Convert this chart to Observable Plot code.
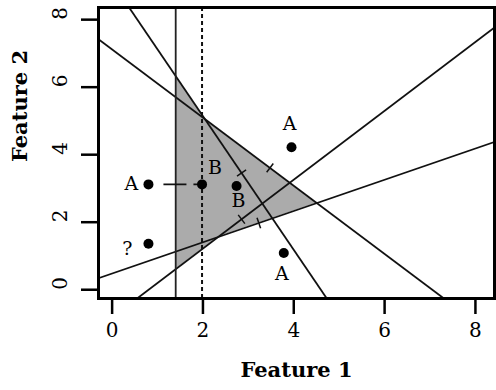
<!DOCTYPE html>
<html><head><meta charset="utf-8">
<script src="https://cdn.jsdelivr.net/npm/d3@7"></script>
<script src="https://cdn.jsdelivr.net/npm/@observablehq/plot@0.6"></script>
<style>
html,body{margin:0;padding:0;background:#fff;}
#chart svg{display:block;}
</style></head><body><div id="chart"></div>
<script>
// ---- data ----
const xTicks = [0, 2, 4, 6, 8];
const yTicks = [0, 2, 4, 6, 8];
const pointX = [0.80, 1.98, 2.74, 3.95, 3.78, 0.80];
const pointY = [3.12, 3.12, 3.07, 4.22, 1.09, 1.36];
const pointLabel = ["A", "B", "B", "A", "A", "?"];
// straight boundaries y = intercept + slope * x
const lineSlope = [-1.98, -1.01, 0.463, 1.02];
const lineIntercept = [9.10, 7.12, 0.48, -0.82];
// x where each boundary carries a small cross mark
const markAtX = [2.85, 3.476, 3.23, 2.85];
const solidVerticalX = [1.40];
const dashedVerticalX = [1.98];
const dashedLinkFromX = [1.13];   // dashed link ends at point B (index 1)

// ---- layout / style ----
const W = 496, H = 390;
const mL = 98, mR = 2, mT = 7, mB = 92;
const xDomain = [-0.30, 8.42], yDomain = [-0.26, 8.36];
const font = "DejaVu Serif";
const kx = (W - mL - mR) / (xDomain[1] - xDomain[0]);
const ky = (H - mT - mB) / (yDomain[1] - yDomain[0]);
const labelPlace = [[-17, 0], [13, -16], [2, 15], [-2, -23], [-2, 21], [-21, 5]];

const lines = lineSlope.map((m, i) => ({m, c: lineIntercept[i]}));
const f = (l, x) => l.c + l.m * x;
const cross = (a, b) => (b.c - a.c) / (a.m - b.m);

// shaded region: x from solid vertical to meeting point; top = max(l0,l1), bottom = min(l2,l3)
const xs = [solidVerticalX[0], cross(lines[0], lines[1]), cross(lines[2], lines[3]), cross(lines[1], lines[2])].sort((a, b) => a - b);
const region = xs.map(x => ({x, y1: Math.min(f(lines[2], x), f(lines[3], x)), y2: Math.max(f(lines[0], x), f(lines[1], x))}));

const segs = lines.map(l => ({x1: xDomain[0] - 1, y1: f(l, xDomain[0] - 1), x2: xDomain[1] + 1, y2: f(l, xDomain[1] + 1)}));

const h = 5.5;
const crosses = lines.map((l, i) => {
  const x = markAtX[i], y = f(l, x);
  const sx = l.m * ky, sy = kx, n = Math.hypot(sx, sy);
  const px = h * sx / n, py = h * sy / n;
  return {x1: x - px / kx, y1: y + py / ky, x2: x + px / kx, y2: y - py / ky};
});

const pts = pointX.map((x, i) => ({x, y: pointY[i], label: pointLabel[i], dx: labelPlace[i][0], dy: labelPlace[i][1]}));
const dashLink = [{x1: dashedLinkFromX[0], x2: pointX[1], y: pointY[1]}];

const chart = Plot.plot({
  width: W, height: H,
  marginLeft: mL, marginRight: mR, marginTop: mT, marginBottom: mB,
  style: {fontFamily: font, background: "#fff", color: "#000"},
  x: {domain: xDomain, axis: null},
  y: {domain: yDomain, axis: null},
  marks: [
    Plot.areaY(region, {x: "x", y1: "y1", y2: "y2", fill: "#ababab", curve: "linear"}),
    Plot.link(segs, {x1: "x1", y1: "y1", x2: "x2", y2: "y2", stroke: "#111", strokeWidth: 1.8, clip: true}),
    Plot.ruleX(solidVerticalX, {stroke: "#222", strokeWidth: 1.8}),
    Plot.ruleX(dashedVerticalX, {stroke: "#111", strokeWidth: 2, strokeDasharray: "4,3"}),
    Plot.link(crosses, {x1: "x1", y1: "y1", x2: "x2", y2: "y2", stroke: "#111", strokeWidth: 1.5}),
    Plot.link(dashLink, {x1: "x1", x2: "x2", y1: "y", y2: "y", stroke: "#111", strokeWidth: 1.8, strokeDasharray: "23,7"}),
    Plot.dot(pts, {x: "x", y: "y", r: 5, fill: "#000", stroke: null}),
    ...pts.map(p => Plot.text([p], {x: "x", y: "y", text: "label", dx: p.dx, dy: p.dy, fontSize: 19, fill: "#000"})),
    Plot.frame({stroke: "#000", strokeWidth: 3}),
    Plot.axisX(xTicks, {tickSize: 16, strokeWidth: 2.5, fill: "none", label: null}),
    Plot.axisY(yTicks, {tickSize: 17, strokeWidth: 2.5, fill: "none", label: null}),
    Plot.text(xTicks, {x: d => d, text: d => String(d), frameAnchor: "bottom", dy: 38.5, fontSize: 20, fill: "#000"}),
    Plot.text(yTicks, {y: d => d, text: d => String(d), frameAnchor: "left", dx: -38, rotate: -90, fontSize: 20, fill: "#000"}),
    Plot.text(["Feature 1"], {frameAnchor: "bottom", dy: 78, fontSize: 21, fontWeight: "bold", fill: "#000"}),
    Plot.text(["Feature 2"], {frameAnchor: "left", dx: -78, dy: 9, rotate: -90, fontSize: 21, fontWeight: "bold", fill: "#000"})
  ]
});
document.getElementById("chart").appendChild(chart);
</script></body></html>
